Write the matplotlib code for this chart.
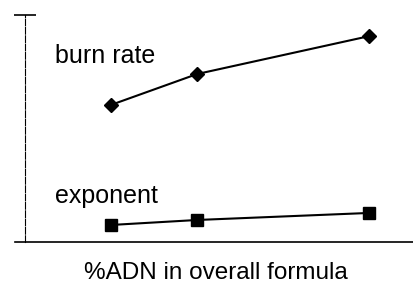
import matplotlib.pyplot as plt

# %ADN in overall formula (x) and the two relative quantities (arbitrary units)
adn_pct = [20, 30, 50]
burn_rate = [0.604, 0.740, 0.907]
exponent = [0.075, 0.097, 0.128]

plt.rcParams['font.family'] = ['Liberation Sans', 'DejaVu Sans']

fig = plt.figure(figsize=(4.14, 2.84), dpi=100)
ax = fig.add_axes([15 / 414, 42 / 284, 399 / 414, 227 / 284])

ax.plot(adn_pct, burn_rate, color='black', lw=1.5, marker='D', markersize=7)
ax.plot(adn_pct, exponent, color='black', lw=1.5, marker='s', markersize=8)

ax.set_xlim(8.84, 55.2)
ax.set_ylim(0, 1)

ax.spines['top'].set_visible(False)
ax.spines['right'].set_visible(False)
ax.spines['left'].set_position(('data', 10))
ax.spines['left'].set_linewidth(0.8)
ax.spines['left'].set_linestyle((0, (6, 1.5)))
ax.spines['bottom'].set_linewidth(1.2)

ax.set_xticks([])
ax.set_yticks([1])
ax.set_yticklabels([])
ax.tick_params(axis='y', direction='inout', length=16, width=1.2)

ax.text(13.5, 0.789, 'burn rate', fontsize=18, va='baseline', ha='left')
ax.text(13.5, 0.172, 'exponent', fontsize=18, va='baseline', ha='left')
fig.text(216 / 414, 5 / 284, '%ADN in overall formula', fontsize=17.5,
         va='baseline', ha='center')

fig.savefig('out.png', dpi=100)
